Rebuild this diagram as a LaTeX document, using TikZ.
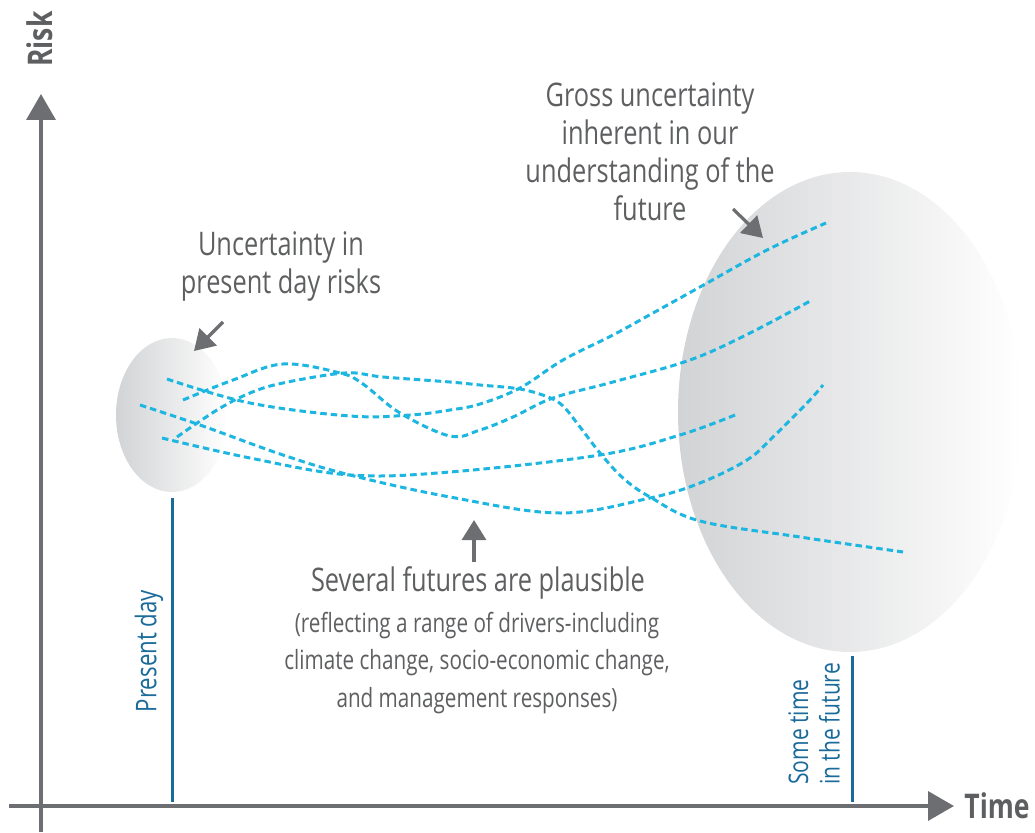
\documentclass[tikz,border=0pt]{standalone}
\usepackage{fontspec}
\setmainfont{Open Sans}[FakeStretch=0.78]
\usetikzlibrary{arrows.meta}
\definecolor{txtgray}{HTML}{5E5F61}
\definecolor{axisgray}{HTML}{6D6E71}
\definecolor{cyanline}{HTML}{1DB6E0}
\definecolor{blueline}{HTML}{1A6A9A}
\definecolor{ellgray}{HTML}{D2D3D5}
\tikzset{
  axisline/.style={line width=3.5pt, draw=axisgray, -{Triangle[length=26pt,width=29pt]}},
  callout/.style={line width=3.2pt, draw=axisgray, -{Triangle[length=20pt,width=24pt]}},
  future/.style={draw=cyanline, line width=3pt, dash pattern=on 6.5pt off 4pt},
  marker/.style={draw=blueline, line width=3pt},
  lbl/.style={text=txtgray, font=\fontsize{32.5}{38}\selectfont, align=center, inner sep=0pt},
  sublbl/.style={text=txtgray, font=\fontsize{26.5}{37.5}\selectfont, align=center, inner sep=0pt},
  axlbl/.style={text=txtgray, font=\fontsize{34}{40}\selectfont\bfseries, inner sep=0pt},
  mklbl/.style={text=blueline, font=\fontsize{28.5}{31}\selectfont, inner sep=0pt},
  mklbltwo/.style={text=blueline, font=\fontsize{27}{31.5}\selectfont, inner sep=0pt}
}
\begin{document}
\begin{tikzpicture}[x=1pt,y=-1pt]
\useasboundingbox (0,0) rectangle (1035,832);
% ellipses
\shade[left color=ellgray, right color=white] (172,415) ellipse [x radius=56, y radius=77];
\shade[left color=ellgray, right color=white] (850,412) ellipse [x radius=172, y radius=240];
% axes
\coordinate (yb) at (41,832);
\coordinate (yt) at (41,94);
\coordinate (xl) at (9,806);
\coordinate (xr) at (954,806);
\draw[axisline] (yb) -- (yt);
\draw[axisline] (xl) -- (xr);
\node[axlbl, rotate=90] (risk) at (40,39) {Risk};
\node[axlbl] (time) at (997,806) {Time};
% markers
\coordinate (pdt) at (172,498);
\coordinate (pdb) at (172,802);
\draw[marker] (pdt) -- (pdb);
\coordinate (ftt) at (852,656);
\coordinate (ftb) at (852,802);
\draw[marker] (ftt) -- (ftb);
\node[mklbl, rotate=90] (pd) at (149,651) {Present day};
\node[mklbltwo, rotate=90, align=left, anchor=west] (ft) at (814,785) {Some time\\in the future};
% futures
\draw[future] plot[smooth, tension=0.6] coordinates {(167,379) (250,403) (350,416) (410,415) (450,410) (480,404) (520,388) (563,360) (613,335) (653,313) (700,287) (767,250) (826,223)};
\draw[future] plot[smooth, tension=0.6] coordinates {(183,400) (233,380) (283,364) (340,373) (363,384) (400,413) (450,436) (480,430) (513,417) (553,398) (613,382) (690,360) (750,333) (812,300)};
\draw[future] plot[smooth, tension=0.6] coordinates {(177,437) (217,410) (250,393) (283,383) (345,373) (383,377) (450,382) (480,385) (520,389) (548,397) (563,406) (580,427) (600,453) (623,478) (650,497) (700,521) (800,537) (903,552)};
\draw[future] plot[smooth, tension=0.6] coordinates {(140,405) (200,425) (283,455) (350,475) (450,497) (560,513) (650,498) (700,483) (747,460) (773,437) (808,402) (823,385)};
\draw[future] plot[smooth, tension=0.6] coordinates {(162,438) (250,458) (350,475) (450,472) (600,455) (680,435) (735,415)};
% labels
\node[lbl] (gross) at (650,152) {Gross uncertainty\\inherent in our\\understanding of the\\future};
\node[lbl] (unc) at (281,266) {Uncertainty in\\present day risks};
\node[lbl] (sev) at (478,583) {Several futures are plausible};
\node[sublbl] (sub) at (477,663) {(reflecting a range of drivers-including\\climate change, socio-economic change,\\and management responses)};
% callouts
\coordinate (a1s) at (223,322);
\coordinate (a1e) at (194,351);
\draw[callout] (a1s) -- (a1e);
\coordinate (a2s) at (733,209);
\coordinate (a2e) at (763,238);
\draw[callout] (a2s) -- (a2e);
\coordinate (a3s) at (474,562);
\coordinate (a3e) at (474,520);
\draw[callout] (a3s) -- (a3e);
\end{tikzpicture}
\end{document}
